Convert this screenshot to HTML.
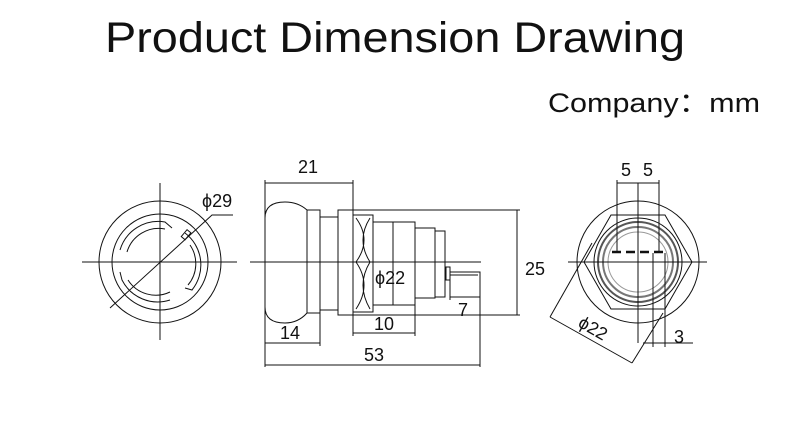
<!DOCTYPE html>
<html><head><meta charset="utf-8"><style>html,body{margin:0;padding:0;background:#fff}svg{display:block}</style></head>
<body>
<svg width="800" height="447" viewBox="0 0 800 447" xmlns="http://www.w3.org/2000/svg" font-family="Liberation Sans, sans-serif">
<text x="105" y="52" font-size="43" textLength="580" lengthAdjust="spacingAndGlyphs" fill="#111">Product Dimension Drawing</text>
<text x="548" y="112" font-size="27" textLength="212" lengthAdjust="spacingAndGlyphs" fill="#111">Company：mm</text>
<g stroke="#111" stroke-width="1" fill="none">
<circle cx="160" cy="262" r="61"/>
<circle cx="160" cy="262" r="48"/>
<line x1="82" y1="262" x2="237" y2="262"/>
<line x1="160" y1="183" x2="160" y2="340"/>
<polyline points="110,308 212,215 233,215"/>
<path d="M120,250 A40,40 0 0 1 165,222 L172,228 M127,252 A33,33 0 0 1 165,229" />
<path d="M185,233 A40,40 0 0 1 192,290 L185,288 M190,245 A33,33 0 0 1 188,285"/>
<path d="M170,300 A40,40 0 0 1 122,280 L120,272 M170,292 A33,33 0 0 1 128,280"/>
<rect x="184" y="230" width="5" height="9" transform="rotate(40 186 234)"/>
<path d="M265,218 Q265,202 285,202 Q298,202 307,210 L320,210 L320,313 L307,313 Q298,323 285,323 Q265,323 265,307 Z"/>
<line x1="307" y1="210" x2="307" y2="313"/>
<rect x="320" y="217" width="18" height="93"/>
<rect x="338" y="210" width="15" height="105"/>
<rect x="353" y="215" width="20" height="97"/>
<path d="M356,218 Q372,240 356,262 Q372,285 356,309 M370,218 Q356,240 370,262 Q356,285 370,309"/>
<rect x="373" y="222" width="42" height="83"/>
<rect x="415" y="228" width="20" height="70"/>
<rect x="435" y="231" width="10" height="66"/>
<rect x="446" y="267" width="4" height="13"/>
<polyline points="450,272 480,272 480,367"/>
<line x1="450" y1="275" x2="478" y2="275"/>
<line x1="250" y1="262" x2="481" y2="262"/>
<line x1="265" y1="180" x2="265" y2="367"/>
<line x1="353" y1="180" x2="353" y2="336"/>
<line x1="320" y1="313" x2="320" y2="346"/>
<line x1="415" y1="305" x2="415" y2="336"/>
<line x1="450" y1="280" x2="450" y2="300"/>
<line x1="338" y1="210" x2="520" y2="210"/>
<line x1="338" y1="315" x2="520" y2="315"/>
<line x1="265" y1="183" x2="353" y2="183"/>
<line x1="517" y1="210" x2="517" y2="315"/>
<line x1="265" y1="343" x2="320" y2="343"/>
<line x1="353" y1="333" x2="415" y2="333"/>
<line x1="265" y1="365" x2="480" y2="365"/>
<line x1="450" y1="297" x2="480" y2="297"/>
<line x1="393" y1="222" x2="393" y2="305"/>
<circle cx="638" cy="262" r="61"/>
<polygon points="584,262 611,215 665,215 692,262 665,309 611,309"/>
<circle cx="638" cy="262" r="44"/>
<circle cx="638" cy="262" r="40" stroke="#555" stroke-width="2"/>
<circle cx="638" cy="262" r="35" stroke="#777" stroke-width="2"/>
<circle cx="638" cy="262" r="30" stroke="#999"/>
<line x1="568" y1="262" x2="707" y2="262"/>
<line x1="638" y1="183" x2="638" y2="343"/>
<line x1="617" y1="183" x2="659" y2="183"/>
<line x1="617" y1="180" x2="617" y2="253"/>
<line x1="659" y1="180" x2="659" y2="253"/>
<line x1="612" y1="252" x2="664" y2="252" stroke-width="2.5" stroke-dasharray="9,5"/>
<polyline points="550,317 632,363"/>
<line x1="550" y1="317" x2="592" y2="243"/>
<line x1="632" y1="363" x2="663" y2="313"/>
<line x1="653" y1="253" x2="653" y2="347"/>
<line x1="665" y1="253" x2="665" y2="347"/>
<line x1="643" y1="343" x2="693" y2="343"/>
</g>
<g font-size="18" fill="#111">
<text x="202" y="207">ϕ29</text>
<text x="298" y="173">21</text>
<text x="525" y="275">25</text>
<text x="375" y="284">ϕ22</text>
<text x="280" y="339">14</text>
<text x="374" y="330">10</text>
<text x="458" y="316">7</text>
<text x="364" y="361">53</text>
<text x="621" y="176">5</text>
<text x="643" y="176">5</text>
<text x="674" y="343">3</text>
<text x="0" y="0" transform="translate(577,326) rotate(30)">ϕ22</text>
</g>
</svg>
</body></html>
